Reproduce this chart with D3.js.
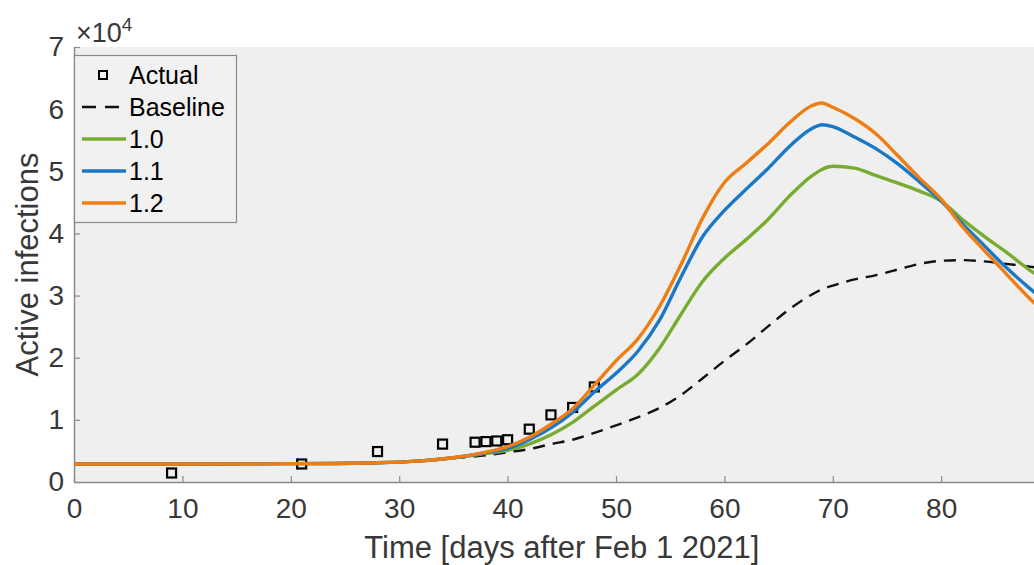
<!DOCTYPE html>
<html>
<head>
<meta charset="utf-8">
<script src="https://cdn.jsdelivr.net/npm/d3@7"></script>
<style>
  body { margin: 0; background: #fff; }
  text { font-family: "Liberation Sans", Arial, Helvetica, sans-serif; }
</style>
</head>
<body>
<div id="chart"></div>
<script>
var svgWidth = 1034
var svgHeight = 565

// data
var actualDays = [9, 21, 28, 34, 37, 38, 39, 40, 42, 44, 46, 48]
var actualCases = [1450, 2900, 4900, 6100, 6400, 6500, 6600, 6800, 8500, 10800, 12000, 15300]

var days = [0, 10, 20, 28, 32, 35, 38, 40, 42, 44, 46, 48, 50, 52, 54, 56, 58, 60, 62, 64, 66, 68, 69, 70, 72, 74, 76, 78, 80, 82, 84, 86, 88, 90]
var baseline = [2900, 2900, 2950, 3100, 3400, 3850, 4300, 4800, 5300, 6100, 6800, 7900, 9100, 10400, 11900, 14000, 16700, 19500, 22100, 25000, 27800, 30100, 31000, 31600, 32600, 33300, 34200, 35100, 35600, 35700, 35500, 35100, 34700, 34200]
var r10 = [2900, 2900, 2950, 3100, 3400, 3900, 4600, 5100, 6100, 7600, 9600, 12200, 14800, 17300, 21500, 27000, 32300, 36000, 39000, 42200, 46000, 49200, 50300, 50800, 50500, 49300, 48100, 46800, 45200, 42200, 39500, 37000, 34300, 32000]
var r11 = [2900, 2900, 2950, 3100, 3400, 3900, 4700, 5400, 6800, 8700, 11200, 14500, 17500, 21000, 26000, 33000, 39500, 43700, 47100, 50400, 54000, 56800, 57500, 57200, 55500, 53600, 51200, 48300, 45200, 41500, 38000, 34500, 31400, 28500]
var r12 = [2900, 2900, 2950, 3100, 3400, 3900, 4800, 5700, 7200, 9300, 11800, 15600, 19500, 23000, 28200, 35000, 42500, 48200, 51300, 54400, 57800, 60500, 61000, 60300, 58500, 56000, 52500, 48900, 45500, 41000, 37200, 33500, 29800, 26500]

var yTicks = [0, 10000, 20000, 30000, 40000, 50000, 60000, 70000]
var xTicks = [0, 10, 20, 30, 40, 50, 60, 70, 80]

var series = [
    {name: "Baseline", values: baseline, color: "#111", width: 2.4, dash: "12,8"},
    {name: "1.0", values: r10, color: "#77AC30", width: 3.4, dash: null},
    {name: "1.1", values: r11, color: "#1B78C6", width: 3.4, dash: null},
    {name: "1.2", values: r12, color: "#EE7D14", width: 3.4, dash: null}
]

var svg = d3.select("#chart").append("svg").attr("width", svgWidth).attr("height", svgHeight)

var plotLeft = 74
var plotTop = 47
var plotBottom = 482

var xScale = d3.scaleLinear().domain([0, 90]).range([plotLeft, plotLeft + 975.6])
var yScale = d3.scaleLinear().domain([0, 70000]).range([plotBottom, plotTop])

svg.append("rect")
    .attr("x", plotLeft).attr("y", plotTop)
    .attr("width", xScale(90) - plotLeft).attr("height", plotBottom - plotTop)
    .attr("fill", "#efefef")

svg.append("clipPath").attr("id", "plotclip").append("rect")
    .attr("x", plotLeft).attr("y", plotTop)
    .attr("width", xScale(90) - plotLeft).attr("height", plotBottom - plotTop)

// axes with inward ticks
var bottomAxis = d3.axisBottom(xScale).tickValues(xTicks).tickSizeInner(-6).tickSizeOuter(0).tickPadding(16)
var leftAxis = d3.axisLeft(yScale).tickValues(yTicks).tickSizeInner(-6).tickSizeOuter(0).tickPadding(10)
    .tickFormat(d => d / 10000)

var gx = svg.append("g").attr("transform", `translate(0, ${plotBottom})`).call(bottomAxis)
var gy = svg.append("g").attr("transform", `translate(${plotLeft}, 0)`).call(leftAxis)

gx.selectAll("text").attr("font-size", "28px").attr("fill", "#383838").attr("dy", "0.71em")
gy.selectAll("text").attr("font-size", "28px").attr("fill", "#383838")
svg.selectAll(".domain").attr("stroke", "#8a8a8a").attr("stroke-width", 1.5)
svg.selectAll(".tick line").attr("stroke", "#8a8a8a").attr("stroke-width", 1.2)

// exponent
var expo = svg.append("text").attr("x", 76).attr("y", 42).attr("fill", "#383838").attr("font-size", "27px")
expo.append("tspan").text("\u00d710")
expo.append("tspan").attr("font-size", "19px").attr("dy", "-11").text("4")

// axis titles
svg.append("text")
    .attr("x", xScale(45)).attr("y", 558)
    .attr("text-anchor", "middle").attr("font-size", "31px").attr("fill", "#383838")
    .text("Time [days after Feb 1 2021]")

svg.append("text")
    .attr("transform", `translate(38, ${(plotTop + plotBottom) / 2}) rotate(-90)`)
    .attr("text-anchor", "middle").attr("font-size", "31px").attr("fill", "#383838")
    .text("Active infections")

var plot = svg.append("g").attr("clip-path", "url(#plotclip)")

// actual data markers
plot.selectAll("rect.actual")
    .data(actualDays)
    .enter()
    .append("rect")
    .attr("class", "actual")
    .attr("x", (d, i) => xScale(d) - 4.5)
    .attr("y", (d, i) => yScale(actualCases[i]) - 4.5)
    .attr("width", 9).attr("height", 9)
    .attr("fill", "none").attr("stroke", "#000").attr("stroke-width", 2.2)

var line = d3.line()
    .x((d, i) => xScale(days[i]))
    .y(d => yScale(d))
    .curve(d3.curveMonotoneX)

plot.selectAll("path.series")
    .data(series)
    .enter()
    .append("path")
    .attr("class", "series")
    .attr("d", d => line(d.values))
    .attr("fill", "none")
    .attr("stroke", d => d.color)
    .attr("stroke-width", d => d.width)
    .attr("stroke-dasharray", d => d.dash)

// legend
var legend = svg.append("g")
legend.append("rect")
    .attr("x", 74.5).attr("y", 55.5).attr("width", 162).attr("height", 167)
    .attr("fill", "#f1f1f1").attr("stroke", "#8a8a8a").attr("stroke-width", 1.2)

var legendNames = ["Actual", "Baseline", "1.0", "1.1", "1.2"]
var legendY = [75, 107, 139, 171, 203]

legend.append("rect")
    .attr("x", 99).attr("y", legendY[0] - 4).attr("width", 8).attr("height", 8)
    .attr("fill", "none").attr("stroke", "#000").attr("stroke-width", 2)

series.forEach(function (s, i) {
    legend.append("line")
        .attr("x1", 82).attr("x2", 126)
        .attr("y1", legendY[i + 1]).attr("y2", legendY[i + 1])
        .attr("stroke", s.color).attr("stroke-width", s.width)
        .attr("stroke-dasharray", s.dash ? "14,9" : null)
})

legend.selectAll("text")
    .data(legendNames)
    .enter()
    .append("text")
    .attr("x", 129)
    .attr("y", (d, i) => legendY[i] + 9)
    .attr("font-size", "25px")
    .attr("fill", "#000")
    .text(d => d)
</script>
</body>
</html>
